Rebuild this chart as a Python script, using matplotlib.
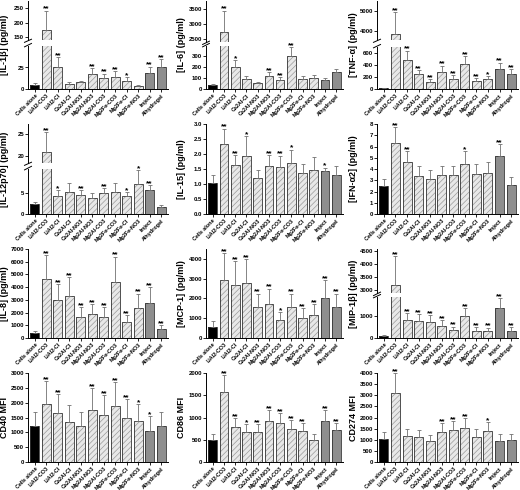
import numpy as np
import matplotlib
matplotlib.use('Agg')
import matplotlib.pyplot as plt

plt.rcParams['font.family'] = ['Liberation Sans', 'DejaVu Sans']
plt.rcParams['font.weight'] = 'bold'
plt.rcParams['hatch.linewidth'] = 0.5

groups = ['Cells alone', 'LiAl2-CO3', 'LiAl2-Cl', 'Ca2Al-Cl', 'Ca2Al-NO3', 'Mg2Al-NO3',
          'Mg2Al-CO3', 'Mg2Fe-CO3', 'Mg2Fe-Cl', 'Mg2Fe-NO3', 'Imject', 'Alhydrogel']

# cytokine data: mean, sd (upper error) and significance marks
il1b_mean = [4.6, 176, 26, 6, 8, 17.5, 13, 14.5, 9.5, 4, 18.5, 25.5]
il1b_sd = [2.4, 66, 11, 2, 1, 6.5, 5, 6.5, 4.5, 1, 7.5, 9.5]
il1b_sig = ['', '**', '**', '', '', '**', '**', '**', '*', '', '**', '**']

il6_mean = [35, 2730, 195, 95, 50, 120, 85, 300, 90, 100, 85, 150]
il6_sd = [6, 720, 70, 25, 10, 30, 25, 80, 25, 30, 15, 35]
il6_sig = ['', '**', '*', '', '', '**', '**', '**', '', '', '', '']

tnf_mean = [15, 3830, 490, 245, 120, 290, 170, 410, 135, 160, 330, 245]
tnf_sd = [5, 1120, 150, 75, 45, 100, 60, 140, 50, 55, 110, 85]
tnf_sig = ['', '**', '**', '**', '**', '**', '**', '**', '**', '*', '**', '**']

il12_mean = [2.4, 20.9, 4.3, 5.2, 4.5, 3.8, 4.8, 5.2, 4.1, 7.0, 5.6, 1.7]
il12_sd = [0.4, 4.6, 1.2, 2.1, 1.1, 1.0, 1.2, 2.1, 1.1, 3.3, 1.2, 0.3]
il12_sig = ['', '**', '*', '', '**', '', '**', '', '*', '*', '**', '']

il15_mean = [1.05, 2.35, 1.63, 1.93, 1.2, 1.6, 1.58, 1.7, 1.37, 1.47, 1.42, 1.3]
il15_sd = [0.25, 0.5, 0.34, 0.67, 0.27, 0.37, 0.37, 0.45, 0.3, 0.43, 0.13, 0.3]
il15_sig = ['', '**', '**', '*', '', '**', '**', '*', '', '', '*', '']

ifn_mean = [2.5, 6.35, 4.6, 3.4, 3.15, 3.5, 3.45, 4.45, 3.6, 3.65, 5.15, 2.6]
ifn_sd = [0.6, 1.4, 1.0, 0.9, 0.75, 0.8, 0.8, 1.15, 0.85, 0.95, 1.1, 0.65]
ifn_sig = ['', '**', '**', '', '', '', '', '*', '', '', '**', '']

il8_mean = [400, 4620, 3000, 3300, 1650, 1850, 1680, 4430, 1250, 2380, 2750, 700]
il8_sd = [150, 1880, 1250, 1500, 750, 850, 720, 1970, 550, 1120, 1250, 300]
il8_sig = [''] + ['**'] * 11

mcp1_mean = [580, 2950, 2680, 2780, 1550, 1700, 900, 1580, 1000, 1150, 2030, 1550]
mcp1_sd = [270, 1350, 1220, 1220, 700, 800, 400, 670, 500, 550, 920, 700]
mcp1_sig = ['', '**', '**', '**', '**', '**', '*', '**', '**', '**', '**', '**']

mip_mean = [100, 3170, 850, 780, 750, 550, 360, 1030, 340, 320, 1400, 320]
mip_sd = [50, 1140, 300, 320, 300, 300, 170, 370, 160, 160, 450, 180]
mip_sig = [''] + ['**'] * 11

cd40_mean = [1200, 1950, 1650, 1360, 1200, 1750, 1580, 1900, 1500, 1380, 1050, 1210]
cd40_sd = [480, 780, 630, 560, 500, 730, 670, 780, 620, 570, 500, 490]
cd40_sig = ['', '**', '**', '', '', '**', '**', '**', '**', '*', '*', '']

cd86_mean = [500, 1570, 790, 670, 670, 930, 880, 750, 700, 490, 930, 710]
cd86_sd = [120, 380, 190, 180, 180, 240, 220, 200, 180, 130, 240, 170]
cd86_sig = ['', '**', '**', '*', '**', '**', '**', '**', '**', '', '**', '**']

cd274_mean = [1050, 3100, 1150, 1120, 930, 1340, 1420, 1530, 1130, 1380, 960, 980]
cd274_sd = [280, 900, 330, 330, 270, 410, 430, 440, 340, 420, 290, 270]
cd274_sig = ['', '**', '', '', '', '**', '**', '**', '', '*', '', '']

W, H = 520, 490
cols_px = [(28, 168), (206, 343), (377, 518)]
rows_px = [(1, 89), (124, 214), (249, 338), (373, 462)]
ylab_x = [5, 182, 354]

fill_cols = ['black'] + ['#e8e8e8'] * 9 + ['#8e8e8e'] * 2
hatches = [None] + ['//////'] * 9 + [None] * 2


def rect(l, r, t, b):
    return [l / W, 1 - b / H, (r - l) / W, (b - t) / H]


def style_axis(ax, ylim, yticks, fmt):
    ax.set_ylim(*ylim)
    ax.set_xlim(-0.6, len(groups) - 0.4)
    ax.set_yticks(yticks)
    ax.set_yticklabels([fmt.format(v) for v in yticks])
    ax.spines['top'].set_visible(False)
    ax.spines['right'].set_visible(False)
    for s in ['left', 'bottom']:
        ax.spines[s].set_linewidth(0.7)
    ax.tick_params(axis='y', length=2, width=0.6, pad=0.8, labelsize=4.3)
    ax.tick_params(axis='x', length=2, width=0.6, pad=1)


def draw_bars(ax, means, sds, sig):
    x = np.arange(len(means))
    for i in range(len(means)):
        ax.bar(x[i], means[i], 0.78, color=fill_cols[i], edgecolor='#9a9a9a',
               linewidth=0, hatch=hatches[i])
        ax.bar(x[i], means[i], 0.78, fill=False, edgecolor='#333333', linewidth=0.6)
    ax.errorbar(x, means, yerr=[np.zeros(len(means)), sds], fmt='none', ecolor='#707070',
                elinewidth=0.6, capsize=1.5, capthick=0.6)
    for i, s in enumerate(sig):
        if s:
            ax.annotate(s, (x[i], means[i] + sds[i]), xytext=(0, -1.5),
                        textcoords='offset points', ha='center', va='bottom',
                        fontsize=6, fontweight='bold')


def set_groups(ax):
    ax.set_xticks(np.arange(len(groups)))
    ax.set_xticklabels(groups, rotation=45, ha='right', rotation_mode='anchor',
                       fontsize=3.9, fontweight='bold')


def panel(fig, row, col, means, sds, sig, label, ylim, yticks, fmt='{:g}', broken=None):
    l, r = cols_px[col]
    t, b = rows_px[row]
    if broken is None:
        ax = fig.add_axes(rect(l, r, t, b))
        draw_bars(ax, means, sds, sig)
        style_axis(ax, ylim, yticks, fmt)
        set_groups(ax)
    else:
        split_hi, split_lo, hi_lim, hi_ticks = broken
        ax_hi = fig.add_axes(rect(l, r, t, split_hi))
        ax_lo = fig.add_axes(rect(l, r, split_lo, b))
        for ax in (ax_hi, ax_lo):
            draw_bars(ax, means, sds, sig)
        style_axis(ax_hi, hi_lim, hi_ticks, fmt)
        style_axis(ax_lo, ylim, yticks, fmt)
        ax_hi.spines['bottom'].set_visible(False)
        ax_hi.set_xticks([])
        set_groups(ax_lo)
        # break marks on the y axis
        kw = dict(color='black', lw=0.7, clip_on=False)
        ax_hi.plot([-0.025, 0.025], [-0.06, 0.02], transform=ax_hi.transAxes, **kw)
        ax_lo.plot([-0.025, 0.025], [0.98, 1.06], transform=ax_lo.transAxes, **kw)
    fig.text(ylab_x[col] / W, 1 - (t + b) / 2 / H, label, rotation=90, ha='center',
             va='center', fontsize=6.5, fontweight='bold')


fig = plt.figure(figsize=(5.2, 4.9), dpi=100)

panel(fig, 0, 0, il1b_mean, il1b_sd, il1b_sig, '[IL-1β] (pg/ml)', (0, 50), [0, 25],
      broken=(40, 46, (140, 275), [150, 200, 250]))
panel(fig, 0, 1, il6_mean, il6_sd, il6_sig, '[IL-6] (pg/ml)', (0, 390), [0, 100, 200, 300],
      broken=(42, 46, (2400, 3770), [2500, 3000, 3500]))
panel(fig, 0, 2, tnf_mean, tnf_sd, tnf_sig, '[TNF-α] (pg/ml)', (0, 700), [0, 200, 400, 600],
      broken=(40, 47, (3550, 5520), [4000, 5000]))

panel(fig, 1, 0, il12_mean, il12_sd, il12_sig, '[IL-12p70] (pg/ml)', (0, 10.5), [0, 5],
      broken=(163, 169, (18.3, 27.3), [20, 25]))
panel(fig, 1, 1, il15_mean, il15_sd, il15_sig, '[IL-15] (pg/ml)', (0, 3.0),
      np.arange(0, 3.01, 0.5), fmt='{:.1f}')
panel(fig, 1, 2, ifn_mean, ifn_sd, ifn_sig, '[IFN-α2] (pg/ml)', (0, 8), np.arange(0, 9))

panel(fig, 2, 0, il8_mean, il8_sd, il8_sig, '[IL-8] (pg/ml)', (0, 7000), np.arange(0, 7001, 1000))
panel(fig, 2, 1, mcp1_mean, mcp1_sd, mcp1_sig, '[MCP-1] (pg/ml)', (0, 4500), np.arange(0, 4001, 1000))
panel(fig, 2, 2, mip_mean, mip_sd, mip_sig, '[MIP-1β] (pg/ml)', (0, 1900), [0, 1000],
      broken=(293, 297, (2870, 4570), [3000, 3500, 4000, 4500]))

panel(fig, 3, 0, cd40_mean, cd40_sd, cd40_sig, 'CD40 MFI', (0, 3000), np.arange(0, 3001, 500))
panel(fig, 3, 1, cd86_mean, cd86_sd, cd86_sig, 'CD86 MFI', (0, 2000), np.arange(0, 2001, 500))
panel(fig, 3, 2, cd274_mean, cd274_sd, cd274_sig, 'CD274 MFI', (0, 4000), np.arange(0, 4001, 500))

fig.savefig('out.png', dpi=100)
